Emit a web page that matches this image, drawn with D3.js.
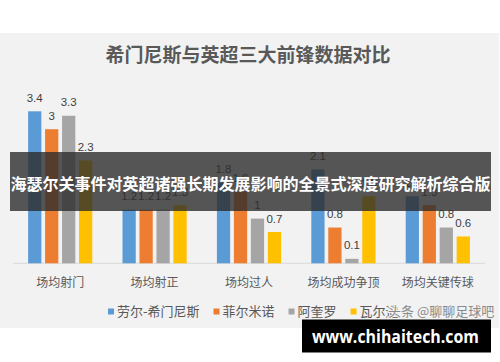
<!DOCTYPE html>
<html><head><meta charset="utf-8">
<script src="https://cdn.jsdelivr.net/npm/d3@7/dist/d3.min.js"></script>
<style>html,body{margin:0;padding:0;background:#fff;}svg{display:block;}</style>
</head><body>
<svg id="c" width="500" height="362"></svg>
<script>
const title = "希门尼斯与英超三大前锋数据对比";
const categories = ["场均射门","场均射正","场均过人","场均成功争顶","场均关键传球"];
const seriesNames = ["劳尔-希门尼斯","菲尔米诺","阿奎罗","瓦尔迪"];
const jimenez = [3.4,1.2,1.8,2.1,1.5];
const firmino = [3.0,1.2,1.6,0.8,1.3];
const aguero  = [3.3,1.2,1.0,0.1,0.8];
const vardy   = [2.3,1.3,0.7,1.5,0.6];
const colors = ["#5B9BD5","#ED7D31","#A5A5A5","#FFC000"];
const bannerText = "海瑟尔关事件对英超诸强长期发展影响的全景式深度研究解析综合版";
const watermark = "头条 @聊聊足球吧";
const siteText = "www.chihaitech.com";

const series = [jimenez, firmino, aguero, vardy];
const cjk = "'Noto Sans CJK SC','Noto Sans',sans-serif";
const svg = d3.select("#c");

// panel background
svg.append("rect").attr("x",0).attr("y",33).attr("width",499).attr("height",295).attr("fill","#F2F2F2");

// title
svg.append("text").attr("x",248).attr("y",62).attr("text-anchor","middle")
  .attr("font-family",cjk).attr("font-size",19).attr("font-weight","bold").attr("fill","#595959").text(title);

const x0 = d3.scaleBand().domain(categories).range([13,485]).paddingInner(0.32).paddingOuter(0.16);
const x1 = d3.scaleBand().domain(d3.range(4)).range([0,x0.bandwidth()]).paddingInner(0.22).paddingOuter(0);
const y = d3.scaleLinear().domain([0,4]).range([263.3,84.5]);

// axis line
svg.append("line").attr("x1",13).attr("x2",485).attr("y1",y(0)).attr("y2",y(0)).attr("stroke","#D9D9D9").attr("stroke-width",1);

const rows = [];
categories.forEach((c,i)=>series.forEach((s,j)=>rows.push({c,j,v:s[i]})));

svg.append("g").selectAll("rect").data(rows).join("rect")
  .attr("x",d=>x0(d.c)+x1(d.j)).attr("width",x1.bandwidth())
  .attr("y",d=>y(d.v)).attr("height",d=>y(0)-y(d.v)).attr("fill",d=>colors[d.j]);

svg.append("g").selectAll("text").data(rows).join("text")
  .attr("x",d=>x0(d.c)+x1(d.j)+x1.bandwidth()/2).attr("y",d=>y(d.v)-9.5)
  .attr("text-anchor","middle").attr("font-family","'Liberation Sans',Arial,sans-serif")
  .attr("font-size",11.5).attr("fill","#404040").text(d=>d.v);

// category axis labels
const xAxis = d3.axisBottom(x0).tickSize(0).tickPadding(0);
const ax = svg.append("g").attr("transform",`translate(0,${y(0)})`).call(xAxis);
ax.select(".domain").remove();
ax.selectAll("text").attr("dy",0).attr("y",23.5).attr("font-family",cjk).attr("font-size",12).attr("fill","#595959");

// legend
const leg = svg.append("g");
let lx = 108;
seriesNames.forEach((n,j)=>{
  leg.append("rect").attr("x",lx).attr("y",308.5).attr("width",6).attr("height",6).attr("fill",colors[j]);
  const t = leg.append("text").attr("x",lx+9).attr("y",316).attr("font-family",cjk).attr("font-size",13).attr("fill","#595959").text(n);
  lx += 9 + t.node().getComputedTextLength() + 14;
});

// watermark text
svg.append("text").attr("x",388).attr("y",316).attr("font-family",cjk).attr("font-size",13)
  .attr("fill","#8a8a8a").attr("stroke","#F2F2F2").attr("stroke-width",2).attr("paint-order","stroke").text(watermark);

// banner overlay
svg.append("rect").attr("x",10).attr("y",152).attr("width",481).attr("height",59).attr("fill","rgba(45,45,45,0.8)");
svg.append("text").attr("x",250.5).attr("y",190).attr("text-anchor","middle").attr("font-family",cjk)
  .attr("font-size",16).attr("font-weight","bold").attr("fill","#fff")
  .attr("textLength",480).attr("lengthAdjust","spacingAndGlyphs").text(bannerText);

// site box
svg.append("rect").attr("x",302).attr("y",319.5).attr("width",189).attr("height",33).attr("fill","#000");
svg.append("text").attr("x",312).attr("y",343).attr("font-family","'Open Sans','Liberation Sans',sans-serif")
  .attr("font-size",18).attr("font-weight","bold").attr("fill","#fff")
  .attr("textLength",167).attr("lengthAdjust","spacingAndGlyphs").text(siteText);
</script>
</body></html>
